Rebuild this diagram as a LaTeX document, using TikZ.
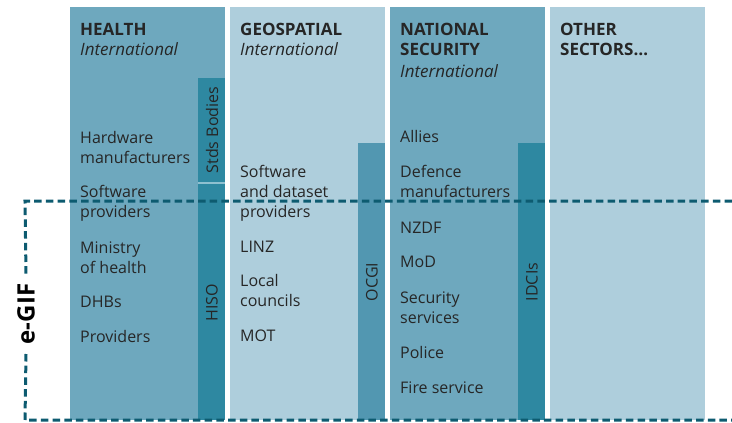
\documentclass[tikz,border=0pt]{standalone}
\usepackage{fontspec}
\setmainfont{Open Sans}
\definecolor{colmid}{HTML}{6EA8BE}
\definecolor{collight}{HTML}{AECEDC}
\definecolor{stripdark}{HTML}{2E88A1}
\definecolor{stripmid}{HTML}{5297B1}
\definecolor{sepline}{HTML}{8EC0D0}
\definecolor{frame}{HTML}{0D5B70}
\definecolor{txt}{HTML}{262626}
\tikzset{
  item/.style={anchor=base west,inner sep=0pt,align=left,text=txt,font=\fontsize{16}{20}\selectfont},
  head/.style={anchor=base west,inner sep=0pt,align=left,text=txt,font=\fontsize{17}{20}\selectfont\bfseries},
  intl/.style={anchor=base west,inner sep=0pt,text=txt,font=\fontsize{17}{20}\selectfont\itshape},
  striplbl/.style={rotate=90,inner sep=0pt,text=txt,font=\fontsize{16}{18}\selectfont},
  frameline/.style={draw=frame,line width=3pt,dash pattern=on 7.5pt off 4.2pt}
}
\begin{document}
\begin{tikzpicture}[x=1pt,y=-1pt]
\useasboundingbox (0,0) rectangle (732,423);
% columns
\fill[colmid] (70,7) rectangle (225,420);
\fill[collight] (230,7) rectangle (385,420);
\fill[colmid] (390,7) rectangle (545,420);
\fill[collight] (550,7) rectangle (705,420);
% strips
\fill[stripdark] (198,78) rectangle (225,420);
\draw[sepline,line width=1.2pt] (198,183) -- (225,183);
\fill[stripmid] (358,143) rectangle (385,420);
\fill[stripdark] (518,143) rectangle (545,420);
% strip labels
\node[striplbl] (stds) at (212,130) {Stds Bodies};
\node[striplbl] (hiso) at (212,303) {HISO};
\node[striplbl] (ocgi) at (372,282) {OCGI};
\node[striplbl] (idcis) at (532,282) {IDCIs};
% e-GIF frame
\node[rotate=90,inner sep=0pt,text=black,font=\fontsize{24}{26}\selectfont\bfseries] (egif) at (26,314) {e-GIF};
\coordinate (tl) at (25,201);
\coordinate (tr) at (732,201);
\coordinate (bl) at (25,420);
\coordinate (br) at (732,420);
\draw[frameline] (tr) -- (tl) -- (egif.east |- 0,274);
\draw[frameline] (egif.west |- 0,354) -- (bl) -- (br);
% Health (multi-line nodes are placed at the baseline of their last line)
\node[head] (h1) at (80,35) {HEALTH};
\node[intl] (h2) at (80,55) {International};
\node[item] (h3) at (80,163) {Hardware\\manufacturers};
\node[item] (h4) at (80,217) {Software\\providers};
\node[item] (h5) at (80,273) {Ministry\\of health};
\node[item] (h6) at (80,307) {DHBs};
\node[item] (h7) at (80,342) {Providers};
% Geospatial
\node[head] (g1) at (240,35) {GEOSPATIAL};
\node[intl] (g2) at (240,55) {International};
\node[item] (g3) at (240,217) {Software\\and dataset\\providers};
\node[item] (g4) at (240,252) {LINZ};
\node[item] (g5) at (240,306) {Local\\councils};
\node[item] (g6) at (240,341) {MOT};
% National security
\node[head] (n1) at (400,55) {NATIONAL\\SECURITY};
\node[intl] (n2) at (400,77) {International};
\node[item] (n3) at (400,142) {Allies};
\node[item] (n4) at (400,197) {Defence\\manufacturers};
\node[item] (n5) at (400,233) {NZDF};
\node[item] (n6) at (400,267) {MoD};
\node[item] (n7) at (400,323) {Security\\services};
\node[item] (n8) at (400,358) {Police};
\node[item] (n9) at (400,393) {Fire service};
% Other
\node[head] (o1) at (560,55) {OTHER\\SECTORS…};
\end{tikzpicture}
\end{document}
